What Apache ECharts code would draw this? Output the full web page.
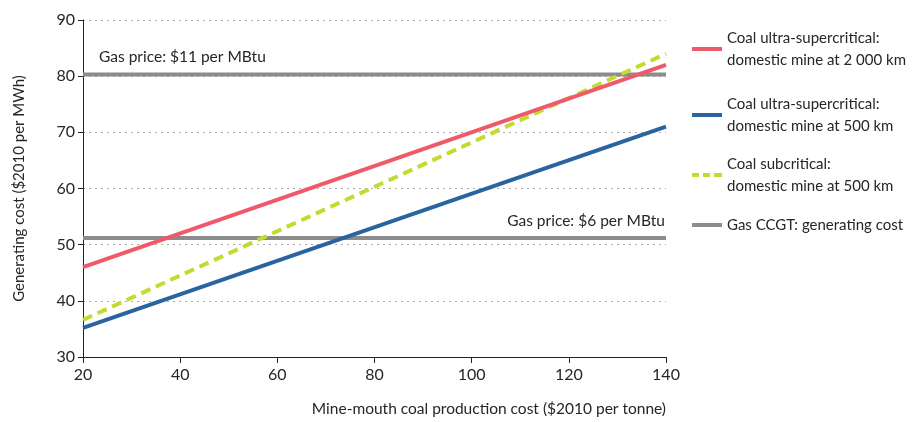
<!DOCTYPE html>
<html><head><meta charset="utf-8">
<script src="https://cdn.jsdelivr.net/npm/echarts@6/dist/echarts.min.js"></script>
<style>html,body{margin:0;padding:0;background:#fff}#c{width:912px;height:422px}</style>
</head><body><div id="c"></div>
<script>
const xTicks = [20, 40, 60, 80, 100, 120, 140];
const xEnds = [20, 140];
const ultraSuper2000 = [46, 82];
const ultraSuper500 = [35.2, 71];
const subcritical500 = [36.6, 84];
const gasHigh = [80.3, 80.3];
const gasLow = [51.2, 51.2];
const names = [
  'Coal ultra-supercritical:\ndomestic mine at 2 000 km',
  'Coal ultra-supercritical:\ndomestic mine at 500 km',
  'Coal subcritical:\ndomestic mine at 500 km',
  'Gas CCGT: generating cost'
];
const gasLabels = ['Gas price: $11 per MBtu', 'Gas price: $6 per MBtu'];

const FONT = 'Lato';
const TXT = '#262626';
const pair = (ys) => xEnds.map((x, i) => [x, ys[i]]);
const chart = echarts.init(document.getElementById('c'));
const solidIcon = 'path://M0,0h30v4h-30z';
const dashIcon = 'path://M0,0h7v4h-7z M11,0h7v4h-7z M22,0h8v4h-8z';
const legendBase = {
  orient: 'vertical', left: 687, itemWidth: 30, itemHeight: 4, itemGap: 0,
  textStyle: { fontFamily: FONT, fontSize: 15, color: TXT, lineHeight: 22 },
  selectedMode: false
};
chart.setOption({
  animation: false,
  textStyle: { fontFamily: FONT },
  grid: { left: 83, right: 246, top: 20, bottom: 65 },
  legend: [
    Object.assign({}, legendBase, { top: 22, data: [{ name: names[0], icon: solidIcon }] }),
    Object.assign({}, legendBase, { top: 88, data: [{ name: names[1], icon: solidIcon }] }),
    Object.assign({}, legendBase, { top: 148, data: [{ name: names[2], icon: dashIcon }] }),
    Object.assign({}, legendBase, { top: 209, data: [{ name: names[3], icon: solidIcon }] })
  ],
  xAxis: {
    type: 'value', min: 20, max: 140, interval: 20,
    name: 'Mine-mouth coal production cost ($2010 per tonne)',
    nameLocation: 'end', nameGap: 0,
    nameTextStyle: { fontFamily: FONT, fontSize: 15.5, color: TXT, align: 'right', verticalAlign: 'top', padding: [44, 0, 0, 0] },
    axisLine: { lineStyle: { color: '#222', width: 1 } },
    axisTick: { show: true, length: 6, lineStyle: { color: '#222' } },
    axisLabel: { fontFamily: FONT, fontSize: 16, color: TXT, margin: 10 },
    splitLine: { show: false }
  },
  yAxis: {
    type: 'value', min: 30, max: 90, interval: 10,
    name: 'Generating cost ($2010 per MWh)',
    nameLocation: 'middle', nameGap: 56,
    nameTextStyle: { fontFamily: FONT, fontSize: 15, color: TXT },
    axisLine: { show: true, lineStyle: { color: '#222', width: 1 } },
    axisTick: { show: true, length: 5, lineStyle: { color: '#222' } },
    axisLabel: { fontFamily: FONT, fontSize: 16, color: TXT, margin: 8 },
    splitLine: { show: true, lineStyle: { color: '#aaa', type: [2, 4], width: 1 } }
  },
  series: [
    { name: names[3], type: 'line', symbol: 'circle', symbolSize: 0, showSymbol: true, z: 2,
      lineStyle: { color: '#8c8c8c', width: 4 }, itemStyle: { color: '#8c8c8c' },
      data: [
        { value: pair(gasHigh)[0], label: { show: true, formatter: gasLabels[0], position: [16, -25], align: 'left', fontFamily: FONT, fontSize: 15.5, color: TXT } },
        pair(gasHigh)[1]
      ] },
    { name: names[3], type: 'line', symbol: 'circle', symbolSize: 0, showSymbol: true, z: 2,
      lineStyle: { color: '#8c8c8c', width: 4 }, itemStyle: { color: '#8c8c8c' },
      data: [
        pair(gasLow)[0],
        { value: pair(gasLow)[1], label: { show: true, formatter: gasLabels[1], position: [-1, -25], align: 'right', fontFamily: FONT, fontSize: 15.5, color: TXT } }
      ] },
    { name: names[1], type: 'line', symbol: 'none', z: 3,
      lineStyle: { color: '#2a64a0', width: 4 }, itemStyle: { color: '#2a64a0' },
      data: pair(ultraSuper500) },
    { name: names[2], type: 'line', symbol: 'none', z: 4,
      lineStyle: { color: '#c6d92f', width: 4, type: [10, 6] }, itemStyle: { color: '#c6d92f' },
      data: pair(subcritical500) },
    { name: names[0], type: 'line', symbol: 'none', z: 5,
      lineStyle: { color: '#ef5a6b', width: 4 }, itemStyle: { color: '#ef5a6b' },
      data: pair(ultraSuper2000) }
  ]
});
</script></body></html>
